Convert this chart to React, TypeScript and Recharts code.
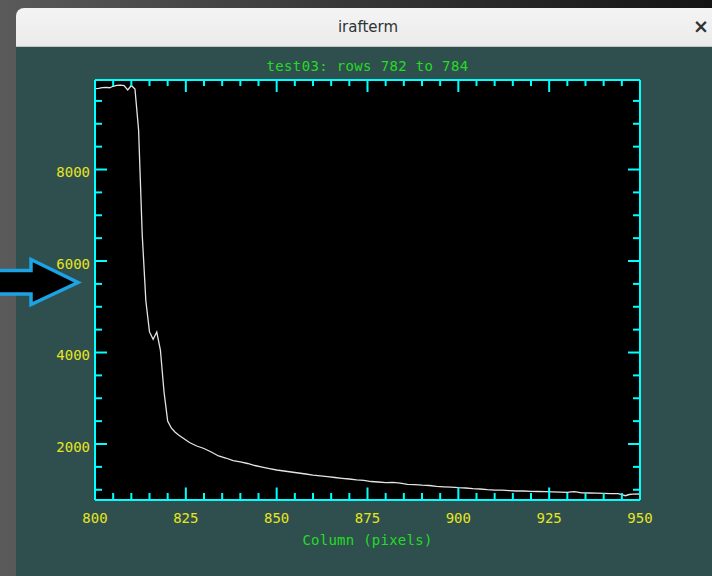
import React from "react";
import { LineChart, Line, XAxis, YAxis, CartesianGrid } from "recharts";

// spectrum cut, columns 800-950 (counts)
const columns = [
  800, 801, 802, 803, 804, 805, 806, 807, 808, 809, 810, 811, 812, 813, 814,
  815, 816, 817, 818, 819, 820, 821, 822, 823, 824, 825, 826, 828, 830, 832,
  834, 836, 838, 840, 842, 844, 846, 848, 850, 852, 854, 856, 858, 860, 862,
  864, 866, 868, 870, 872, 874, 876, 878, 880, 882, 884, 886, 888, 890, 892,
  894, 896, 898, 900, 902, 904, 906, 908, 910, 912, 914, 916, 918, 920, 922,
  924, 926, 928, 930, 931, 932, 934, 936, 938, 940, 942, 944, 945, 946, 947,
  948, 950,
];
const counts = [
  9767, 9775, 9790, 9797, 9788, 9820, 9841, 9845, 9835, 9740, 9837, 9760, 8864, 6570, 5126,
  4450, 4290, 4448, 4055, 3137, 2503, 2350, 2262, 2197, 2142, 2087, 2033, 1956, 1902, 1825,
  1738, 1694, 1639, 1607, 1574, 1530, 1497, 1464, 1432, 1410, 1388, 1366, 1344, 1322, 1305,
  1285, 1268, 1250, 1235, 1217, 1206, 1180, 1169, 1154, 1163, 1147, 1119, 1110, 1099, 1093,
  1075, 1064, 1056, 1045, 1038, 1023, 1016, 1003, 994, 990, 981, 973, 973, 966, 962,
  957, 953, 946, 942, 955, 959, 933, 929, 925, 920, 916, 914, 896, 870, 896,
  903, 907,
];

const xLabels = [800, 825, 850, 875, 900, 925, 950];
const yLabels = [2000, 4000, 6000, 8000];
const xMinorStep = 5;
const yMinorStep = 500;
const xDomain = [800, 950];
const yDomain = [776, 9957];

const xTicks = Array.from({ length: (xDomain[1] - xDomain[0]) / xMinorStep + 1 }, (_, i) => xDomain[0] + i * xMinorStep);
const yTicks = Array.from({ length: 18 }, (_, i) => 1000 + i * yMinorStep);

const data = columns.map((c, i) => ({ col: c, counts: counts[i] }));

const CYAN = "#00ffff";
const YELLOW = "#e6e61e";
const GREEN = "#22dd22";
const MONO = "'DejaVu Sans Mono', monospace";

const BottomTick = ({ x, y, payload }: any) => {
  const major = xLabels.includes(payload.value);
  return (
    <g>
      <line x1={x} y1={y} x2={x} y2={y - (major ? 12.5 : 7)} stroke={CYAN} strokeWidth={2} />
      {major && (
        <text x={x} y={y + 22.7} textAnchor="middle" fill={YELLOW} fontSize={14} fontFamily={MONO}>
          {payload.value}
        </text>
      )}
    </g>
  );
};

const TopTick = ({ x, y, payload }: any) => {
  const major = xLabels.includes(payload.value);
  return <line x1={x} y1={y} x2={x} y2={y + (major ? 12 : 6)} stroke={CYAN} strokeWidth={2} />;
};

const LeftTick = ({ x, y, payload }: any) => {
  const major = yLabels.includes(payload.value);
  return (
    <g>
      <line x1={x} y1={y} x2={x + (major ? 12 : 7)} y2={y} stroke={CYAN} strokeWidth={2} />
      {major && (
        <text x={x - 5} y={y + 7.5} textAnchor="end" fill={YELLOW} fontSize={14} fontFamily={MONO}>
          {payload.value}
        </text>
      )}
    </g>
  );
};

const RightTick = ({ x, y, payload }: any) => {
  const major = yLabels.includes(payload.value);
  return <line x1={x} y1={y} x2={x - (major ? 12 : 7)} y2={y} stroke={CYAN} strokeWidth={2} />;
};

export default function App() {
  return (
    <div
      style={{
        position: "fixed", left: 0, top: 0, width: 712, height: 576, overflow: "hidden",
        background: "linear-gradient(90deg, #5a5a5a 0%, #333 55%, #141414 100%)",
      }}
    >
      {/* terminal window */}
      <div
        style={{
          position: "absolute", left: 16, top: 8, width: 720, height: 580,
          borderRadius: "8px 0 0 0", overflow: "hidden", background: "#2f4f4f",
        }}
      >
        <div
          style={{
            height: 38, background: "linear-gradient(#f4f4f4, #ebebeb)",
            borderBottom: "1px solid #c4c4c4", position: "relative",
          }}
        >
          <div
            style={{
              position: "absolute", left: 352 - 60, width: 120, top: 10, textAlign: "center",
              fontFamily: "'DejaVu Sans', sans-serif", fontSize: 15, color: "#2e3436",
            }}
          >
            irafterm
          </div>
          <div
            style={{
              position: "absolute", left: 677, top: 7, fontFamily: "'DejaVu Sans', sans-serif",
              fontSize: 19, fontWeight: "bold", color: "#2e3436",
            }}
          >
            ×
          </div>
        </div>
      </div>

      <div
        style={{
          position: "absolute", left: 0, width: 735, top: 58, textAlign: "center",
          fontFamily: MONO, fontSize: 14, letterSpacing: 0.35, color: GREEN, whiteSpace: "pre",
        }}
      >
        test03: rows 782 to 784
      </div>
      <div
        style={{
          position: "absolute", left: 0, width: 735, top: 532, textAlign: "center",
          fontFamily: MONO, fontSize: 14, letterSpacing: 0.25, color: GREEN, whiteSpace: "pre",
        }}
      >
        Column (pixels)
      </div>

      <div style={{ position: "absolute", left: 0, top: 0 }}>
        <LineChart width={712} height={576} data={data} margin={{ top: 79, right: 71, bottom: 75, left: 94 }}>
          <CartesianGrid fill="#000000" stroke="none" horizontal={false} vertical={false} />
          <Line
            type="linear" dataKey="counts" stroke="#e4e4e4" strokeWidth={1.3}
            dot={false} isAnimationActive={false}
          />
          <XAxis
            dataKey="col" type="number" domain={xDomain} ticks={xTicks} interval={0}
            allowDataOverflow height={1} tickSize={0} tickMargin={0}
            axisLine={{ stroke: CYAN, strokeWidth: 2 }} tick={<BottomTick />}
          />
          <XAxis
            xAxisId="t" orientation="top" dataKey="col" type="number" domain={xDomain} ticks={xTicks}
            interval={0} allowDataOverflow height={1} tickSize={0} tickMargin={0}
            axisLine={{ stroke: CYAN, strokeWidth: 2 }} tick={<TopTick />}
          />
          <YAxis
            type="number" domain={yDomain} ticks={yTicks} interval={0} allowDataOverflow
            width={1} tickSize={0} tickMargin={0}
            axisLine={{ stroke: CYAN, strokeWidth: 2 }} tick={<LeftTick />}
          />
          <YAxis
            yAxisId="r" orientation="right" type="number" domain={yDomain} ticks={yTicks} interval={0}
            allowDataOverflow width={1} tickSize={0} tickMargin={0}
            axisLine={{ stroke: CYAN, strokeWidth: 2 }} tick={<RightTick />}
          />
        </LineChart>
      </div>

      {/* pointer arrow */}
      <svg width={712} height={576} style={{ position: "absolute", left: 0, top: 0 }}>
        <polygon
          points="-6,270.5 31,270.5 31,259.5 78,282.5 31,304.5 31,294 -6,294"
          fill="#000" stroke="#1ba3e6" strokeWidth={3.5} strokeLinejoin="miter"
        />
      </svg>
    </div>
  );
}
